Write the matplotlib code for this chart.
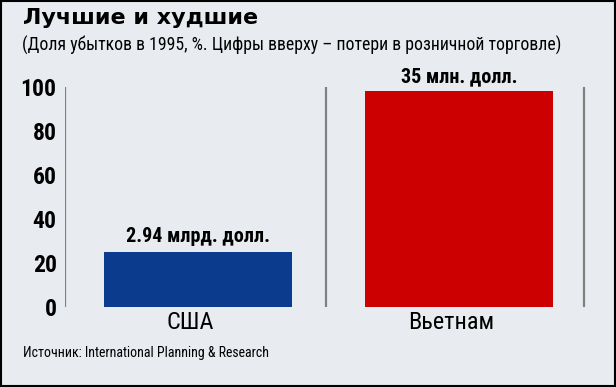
import matplotlib.pyplot as plt

# data
countries = ["США", "Вьетнам"]
loss_share = [25, 98]
bar_notes = ["2.94 млрд. долл.", "35 млн. долл."]
bar_colors = ["#0b3b8c", "#cc0000"]
y_ticks = [0, 20, 40, 60, 80, 100]

title = "Лучшие и худшие"
subtitle = "(Доля убытков в 1995, %. Цифры вверху – потери в розничной торговле)"
source = "Источник: International Planning & Research"

plt.rcParams['font.family'] = ['Roboto Condensed', 'DejaVu Sans']

bg = "#e8ecf0"
fig = plt.figure(figsize=(6.16, 3.87), dpi=100, facecolor=bg)
ax = fig.add_axes([65 / 616, 1 - 307 / 387, 522 / 616, 220 / 387])
ax.set_facecolor(bg)

x = list(range(len(countries)))
ax.bar(x, loss_share, width=0.72, color=bar_colors, zorder=2)
ax.set_xlim(-0.51, 1.49)
ax.set_ylim(0, 100)

# grey dividers
for xv in [-0.51, 0.49, 1.48]:
    ax.axvline(xv, color="#808080", lw=1.6, zorder=1)

for xi, v, note in zip(x, loss_share, bar_notes):
    ax.annotate(note, (xi, v), xytext=(0, 4), textcoords="offset points",
                ha="center", va="bottom", fontsize=14.5, fontweight="bold")

# country names, a bit left of bar centre like in the original
for xi, name in zip(x, countries):
    ax.annotate(name, (xi, 0), xytext=(-6, -3), textcoords="offset points",
                ha="center", va="top", fontsize=17.5)

for s in ax.spines.values():
    s.set_visible(False)
ax.set_yticks(y_ticks)
ax.set_yticklabels([str(t) for t in y_ticks], fontsize=17, fontweight="bold")
ax.tick_params(axis="y", length=0, pad=6)
ax.set_xticks([])

fig.text(23 / 616, 1 - 8 / 387, title, fontsize=16, fontweight="bold", va="top",
         family=['DejaVu Sans'])
fig.text(22 / 616, 1 - 36 / 387, subtitle, fontsize=12.8, va="top")
fig.text(23 / 616, 1 - 353 / 387, source, fontsize=10, va="center")

# frame
fig.patches.append(plt.Rectangle((0.001, 0.002), 0.997, 0.996, transform=fig.transFigure,
                                 fill=False, edgecolor="black", lw=1.5))

fig.savefig("out.png", dpi=100, facecolor=bg)
